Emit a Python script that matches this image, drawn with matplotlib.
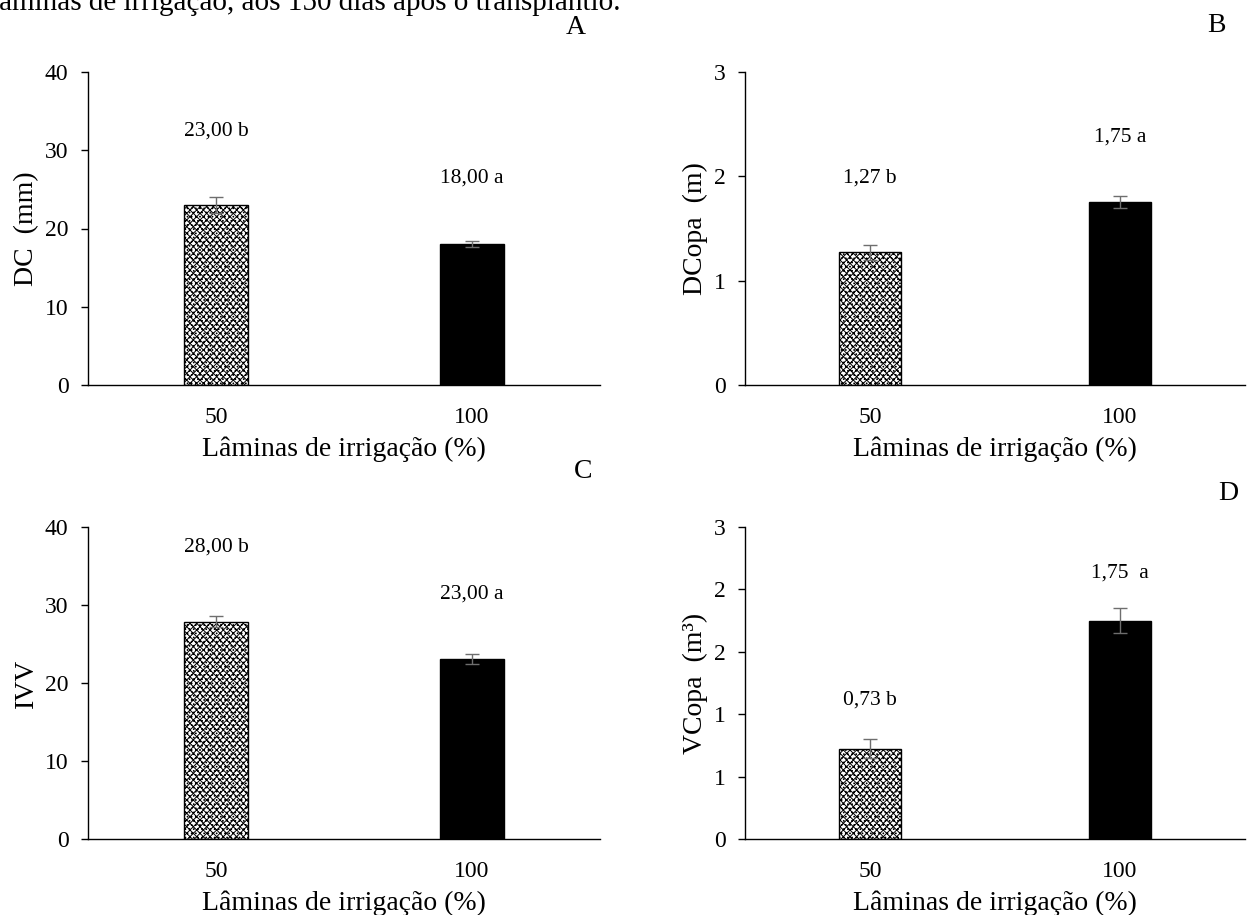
import matplotlib
matplotlib.use("Agg")
import matplotlib.pyplot as plt
from matplotlib.ticker import FormatStrFormatter

plt.rcParams["font.family"] = ["Liberation Serif", "DejaVu Serif"]
plt.rcParams["hatch.linewidth"] = 0.7

# data
categories = ["50", "100"]
dc_vals = [23.0, 18.0]
dc_err = [1.0, 0.4]
dcopa_vals = [1.27, 1.755]
dcopa_err = [0.07, 0.06]
ivv_vals = [27.85, 23.07]
ivv_err = [0.7, 0.6]
vcopa_vals = [0.87, 2.10]
vcopa_err = [0.09, 0.12]

dc_labels = ["23,00 b", "18,00 a"]
dcopa_labels = ["1,27 b", "1,75 a"]
ivv_labels = ["28,00 b", "23,00 a"]
vcopa_labels = ["0,73 b", "1,75  a"]

W, H = 1248, 915
fig = plt.figure(figsize=(W / 100, H / 100), dpi=100)


def box(x0, x1, y_top, y_bot):
    return [x0 / W, 1 - y_bot / H, (x1 - x0) / W, (y_bot - y_top) / H]


panels = [
    # rect, values, errs, labels, label y, ymax, yticks, ylabel, letter
    (box(88, 600, 72, 385), dc_vals, dc_err, dc_labels, [32.4, 26.5],
     40, [0, 10, 20, 30, 40], "DC  (mm)", "A", (576, 27)),
    (box(745, 1245, 72, 385), dcopa_vals, dcopa_err, dcopa_labels, [1.98, 2.38],
     3, [0, 1, 2, 3], "DCopa  (m)", "B", (1216, 25)),
    (box(88, 600, 527, 839), ivv_vals, ivv_err, ivv_labels, [37.4, 31.4],
     40, [0, 10, 20, 30, 40], "IVV", "C", (583, 472)),
    (box(745, 1245, 527, 839), vcopa_vals, vcopa_err, vcopa_labels, [1.34, 2.56],
     3, [0, 0.6, 1.2, 1.8, 2.4, 3.0], "VCopa  (m³)", "D", (1228, 493)),
]

for rect, vals, errs, labs, laby, ymax, yticks, ylabel, letter, lpos in panels:
    ax = fig.add_axes(rect)
    x = range(len(categories))
    ax.bar(0, vals[0], width=0.25, color="white", edgecolor="black",
           linewidth=1.0, hatch="xxxxx....", zorder=2)
    ax.bar(1, vals[1], width=0.25, color="black", edgecolor="black",
           linewidth=1.0, zorder=2)
    ax.errorbar(list(x), vals, yerr=errs, fmt="none", ecolor="#6e6e6e",
                elinewidth=1.0, capsize=5, capthick=1.0, zorder=3)
    for xi, lab, ly in zip(x, labs, laby):
        ax.text(xi, ly, lab, ha="center", va="center", fontsize=15.5)
    ax.set_xlim(-0.5, 1.5)
    ax.set_ylim(0, ymax)
    ax.set_yticks(yticks)
    ax.yaxis.set_major_formatter(FormatStrFormatter("%.0f"))
    ax.set_xticks(list(x))
    ax.set_xticklabels(categories)
    ax.tick_params(axis="x", length=0, pad=16, labelsize=17)
    ax.tick_params(axis="y", length=5, width=1, pad=9, labelsize=17, direction="out")
    for s in ("top", "right"):
        ax.spines[s].set_visible(False)
    for s in ("left", "bottom"):
        ax.spines[s].set_linewidth(1.0)
        ax.spines[s].set_color("black")
    ax.set_xlabel("Lâminas de irrigação (%)", fontsize=20, labelpad=6)
    ax.set_ylabel(ylabel, fontsize=20, labelpad=4)
    fig.text(lpos[0] / W, 1 - lpos[1] / H, letter, ha="center", va="center",
             fontsize=20)

# caption line cut off at the top of the page
fig.text(-9 / W, 1 - 2 / H, "lâminas de irrigação, aos 150 dias após o transplantio.",
         ha="left", va="center", fontsize=21)

fig.savefig("out.png", dpi=100)
